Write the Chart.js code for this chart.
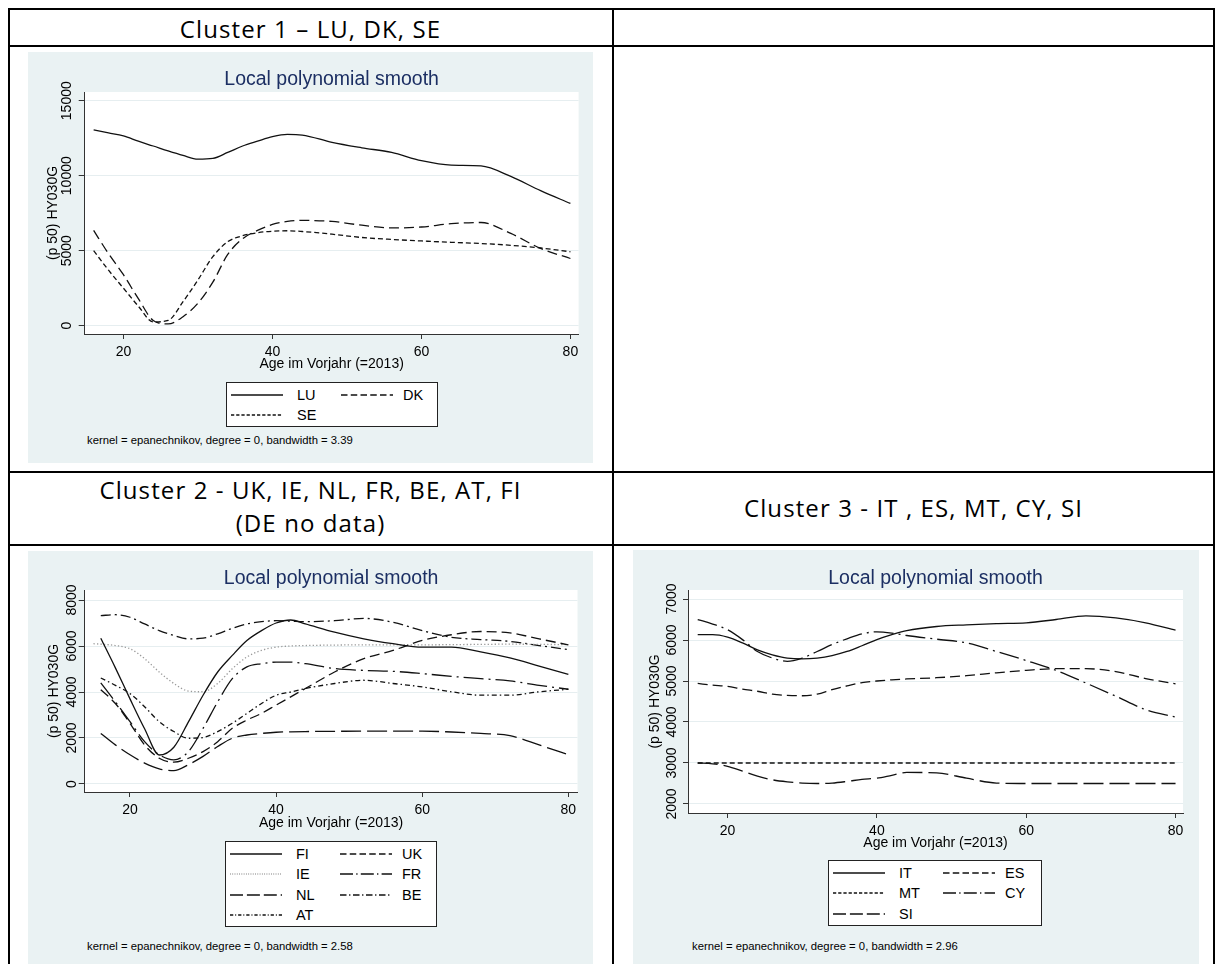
<!DOCTYPE html>
<html>
<head>
<meta charset="utf-8">
<script src="https://cdn.jsdelivr.net/npm/chart.js@4.4.1/dist/chart.umd.min.js"></script>
<style>
  html, body { margin: 0; padding: 0; background: #fff; }
  body { width: 1218px; height: 964px; position: relative; overflow: hidden; font-family: 'Liberation Sans', Arial, sans-serif; }
  .rule { position: absolute; background: #000; }
  .head { position: absolute; font-family: 'Open Sans', sans-serif; font-size: 24px; line-height: 24px; letter-spacing: 1.1px; text-align: center; white-space: nowrap; color: #000; }
  .panel { position: absolute; background: #eaf2f3; }
  .ptitle { position: absolute; font-size: 19.5px; color: #1c2f63; transform: translate(-50%, -50%); white-space: nowrap; }
  canvas { position: absolute; }
  .legend { position: absolute; background: #fff; border: 1px solid #222; box-sizing: border-box; }
  .legend span { position: absolute; font-size: 14.5px; line-height: 20px; white-space: nowrap; }
  .legend svg { position: absolute; }
  .note { position: absolute; font-size: 11.3px; transform: translateY(-50%); white-space: nowrap; }
</style>
</head>
<body>

<!-- table rules -->
<div class="rule" style="left:8px;top:8px;width:1207px;height:2px"></div>
<div class="rule" style="left:8px;top:45px;width:1207px;height:2px"></div>
<div class="rule" style="left:8px;top:471px;width:1207px;height:2px"></div>
<div class="rule" style="left:8px;top:544px;width:1207px;height:2px"></div>
<div class="rule" style="left:8px;top:8px;width:2px;height:956px"></div>
<div class="rule" style="left:612px;top:8px;width:2px;height:956px"></div>
<div class="rule" style="left:1213px;top:8px;width:2px;height:956px"></div>

<div class="head" style="left:9px;width:603px;top:16.7px">Cluster 1 – LU, DK, SE</div>
<div class="head" style="left:9px;width:603px;top:477.7px">Cluster 2 - UK, IE, NL, FR, BE, AT, FI</div>
<div class="head" style="left:9px;width:603px;top:510.7px">(DE no data)</div>
<div class="head" style="left:614px;width:599px;top:495.7px">Cluster 3 - IT , ES, MT, CY, SI</div>

<div class="panel" style="left:28px;top:52px;width:565px;height:411px"></div>
<div class="panel" style="left:28px;top:551px;width:565px;height:413px"></div>
<div class="panel" style="left:633px;top:550px;width:566px;height:414px"></div>

<canvas id="c1"></canvas>
<canvas id="c2"></canvas>
<canvas id="c3"></canvas>

<script>
// ages (x) shared by the smoothed curves
const ages = [16, 18, 20, 22, 24, 26, 28, 30, 32, 34, 36, 38, 40, 42, 44, 48, 52, 56, 60, 64, 68, 72, 76, 80];
const ieAges = [15, 16, 18, 20, 22, 24, 26, 28, 30, 32, 34, 36, 38, 40, 42, 44, 48, 52, 56, 60, 64, 68, 72, 76, 80];
const xTicks = [20, 40, 60, 80];

// Cluster 1
const lu = [13050, 12850, 12650, 12300, 11980, 11650, 11350, 11100, 11150, 11550, 11980, 12300, 12600, 12750, 12710, 12220, 11860, 11550, 11000, 10700, 10650, 9950, 9000, 8150];
const dk = [6350, 4800, 3400, 1800, 350, 120, 600, 1500, 2900, 4750, 5800, 6350, 6750, 6950, 7020, 6950, 6700, 6520, 6580, 6800, 6880, 6150, 5150, 4480];
const se = [5000, 3700, 2500, 1300, 250, 350, 1600, 3050, 4600, 5600, 6000, 6200, 6300, 6330, 6280, 6100, 5880, 5750, 5650, 5560, 5480, 5360, 5180, 4930];
const yTicks1 = [0, 5000, 10000, 15000];

// Cluster 2
const fi = [6340, 5050, 3700, 2400, 1260, 1600, 2700, 3860, 4870, 5590, 6240, 6670, 7000, 7130, 6960, 6600, 6310, 6100, 5950, 5950, 5740, 5480, 5130, 4770];
const uk = [4100, 3500, 2640, 1700, 1120, 950, 1120, 1410, 1840, 2420, 2780, 3070, 3430, 3790, 4150, 4870, 5450, 5810, 6240, 6490, 6630, 6570, 6310, 6050];
const ie = [6100, 6080, 6020, 5880, 5450, 4870, 4370, 4040, 4010, 4370, 5010, 5520, 5810, 5950, 6000, 6020, 6040, 6050, 6050, 6050, 6060, 6070, 6080, 6070, 6060];
const fr = [4400, 3570, 2710, 1840, 1270, 1050, 1410, 2420, 3570, 4580, 5090, 5230, 5300, 5300, 5230, 5020, 4940, 4900, 4800, 4680, 4580, 4480, 4290, 4120];
const nl = [2200, 1700, 1270, 910, 660, 580, 840, 1200, 1630, 1990, 2130, 2200, 2250, 2270, 2280, 2290, 2300, 2300, 2300, 2260, 2200, 2100, 1700, 1270];
const be = [7320, 7360, 7250, 6960, 6670, 6460, 6310, 6340, 6530, 6770, 6960, 7060, 7100, 7080, 7060, 7100, 7200, 7030, 6670, 6380, 6280, 6200, 6020, 5840];
const at = [4610, 4290, 3930, 3360, 2710, 2280, 1990, 2020, 2280, 2640, 3070, 3500, 3860, 4000, 4150, 4370, 4510, 4370, 4220, 4010, 3860, 3860, 4010, 4120];
const yTicks2 = [0, 2000, 4000, 6000, 8000];

// Cluster 3
const it = [6130, 6130, 6070, 5930, 5760, 5640, 5560, 5540, 5560, 5620, 5720, 5860, 6010, 6130, 6230, 6330, 6370, 6400, 6420, 6500, 6590, 6540, 6420, 6240];
const es = [4940, 4900, 4870, 4800, 4750, 4680, 4650, 4640, 4680, 4790, 4880, 4960, 5000, 5030, 5050, 5080, 5130, 5200, 5260, 5300, 5300, 5230, 5060, 4930];
const mt = [3000, 3000, 3000, 3000, 3000, 3000, 3000, 3000, 3000, 3000, 3000, 3000, 3000, 3000, 3000, 3000, 3000, 3000, 3000, 3000, 3000, 3000, 3000, 3000];
const cy = [6500, 6390, 6250, 6010, 5720, 5560, 5480, 5560, 5720, 5890, 6030, 6150, 6200, 6170, 6110, 6020, 5930, 5720, 5500, 5260, 4950, 4630, 4300, 4120];
const si = [3000, 2980, 2920, 2800, 2680, 2590, 2540, 2510, 2500, 2510, 2550, 2600, 2630, 2700, 2770, 2760, 2630, 2510, 2500, 2500, 2500, 2500, 2500, 2500];
const yTicks3 = [2000, 3000, 4000, 5000, 6000, 7000];

// Stata-like line patterns
const SOLID = [], DASH = [10, 5], SHORTDASH = [5, 3], DOT = [1.3, 2.2], LONGDASH = [20, 6],
      LONGDASH_DOT = [20, 5, 2, 5], DASH_DOT = [10, 4, 2, 4], SHORTDASH_DOT = [5, 3, 1.5, 3];

Chart.defaults.font.family = "'Liberation Sans', Arial, sans-serif";
Chart.defaults.color = '#000';

// white plot region on the bluish graph region
const whitePlot = {
    id: 'whitePlot',
    beforeDraw(chart) {
        const { ctx, chartArea: a } = chart;
        ctx.save();
        ctx.fillStyle = '#fff';
        ctx.fillRect(a.left, a.top, a.right - a.left, a.bottom - a.top);
        ctx.restore();
    }
};

const series = (label, x, y, dash, color) => ({ label, x, y, dash, color: color || '#111' });

const makeChart = (id, spec) => {
    const cv = document.getElementById(id);
    cv.width = spec.box.w;
    cv.height = spec.box.h;
    cv.style.left = spec.box.left + 'px';
    cv.style.top = spec.box.top + 'px';

    const fixTicks = vals => scale => { scale.ticks = vals.map(v => ({ value: v })); };

    const chart = new Chart(cv, {
        type: 'line',
        data: {
            datasets: spec.series.map(s => ({
                label: s.label,
                data: s.x.map((a, i) => ({ x: a, y: s.y[i] })),
                borderColor: s.color,
                borderWidth: 1.3,
                borderDash: s.dash,
                pointRadius: 0,
                fill: false,
                cubicInterpolationMode: 'monotone'
            }))
        },
        options: {
            responsive: false,
            animation: false,
            devicePixelRatio: 1,
            layout: { padding: spec.pad },
            plugins: { legend: { display: false }, tooltip: { enabled: false } },
            scales: {
                x: {
                    type: 'linear',
                    min: spec.xMin, max: spec.xMax,
                    afterBuildTicks: fixTicks(xTicks),
                    afterFit: s => { s.height = spec.xH; },
                    grid: { drawOnChartArea: false, tickLength: 5, tickColor: '#333' },
                    border: { color: '#333', width: 1 },
                    ticks: { padding: 4.6, font: { size: 14 }, maxRotation: 0, autoSkip: false, callback: v => String(v) },
                    title: { display: true, text: 'Age im Vorjahr (=2013)', font: { size: 14 }, padding: { top: 0, bottom: 4.3 } }
                },
                y: {
                    type: 'linear',
                    min: spec.yMin, max: spec.yMax,
                    afterBuildTicks: fixTicks(spec.yTicks),
                    afterFit: s => { s.width = spec.yW; },
                    grid: { color: '#e6eef0', tickLength: spec.yTickLen, tickColor: '#333' },
                    border: { color: '#333', width: 1 },
                    ticks: { minRotation: 90, maxRotation: 90, crossAlign: 'center', padding: spec.yTickPad, font: { size: 14 }, autoSkip: false, callback: v => String(v) },
                    title: { display: true, text: '(p 50) HY030G', font: { size: 14 }, padding: { top: spec.yTitlePad, bottom: 0 } }
                }
            }
        },
        plugins: [whitePlot]
    });

    // panel title, centred over the plot region
    const a = chart.chartArea;
    const t = document.createElement('div');
    t.className = 'ptitle';
    t.textContent = 'Local polynomial smooth';
    t.style.left = (spec.box.left + (a.left + a.right) / 2) + 'px';
    t.style.top = spec.titleY + 'px';
    document.body.appendChild(t);

    // boxed two-column legend built from the datasets
    const rows = Math.ceil(chart.data.datasets.length / 2);
    const lg = document.createElement('div');
    lg.className = 'legend';
    lg.style.left = spec.legend.left + 'px';
    lg.style.top = spec.legend.top + 'px';
    lg.style.width = spec.legend.w + 'px';
    lg.style.height = (25 + (rows - 1) * 20.3) + 'px';
    chart.data.datasets.forEach((ds, i) => {
        const col = i % 2, row = Math.floor(i / 2);
        const cy = 12 + row * 20.3;
        const dash = (ds.borderDash || []).map(d => (d * 0.65).toFixed(2)).join(' ');
        lg.insertAdjacentHTML('beforeend',
            `<svg width="52" height="4" style="left:${4 + col * 110}px;top:${cy - 2}px">` +
            `<line x1="0" y1="2" x2="52" y2="2" stroke="${ds.borderColor}" stroke-width="1.3" stroke-dasharray="${dash}"/></svg>` +
            `<span style="left:${70 + col * 106}px;top:${cy - 10}px">${ds.label}</span>`);
    });
    document.body.appendChild(lg);

    const n = document.createElement('div');
    n.className = 'note';
    n.textContent = spec.note;
    n.style.left = spec.noteX + 'px';
    n.style.top = spec.noteY + 'px';
    document.body.appendChild(n);
    return chart;
};

makeChart('c1', {
    box: { left: 28, top: 52, w: 565, h: 325 },
    pad: { top: 40, right: 14.4, left: 0, bottom: 0 },
    yW: 56.7, xH: 43,
    xMin: 14.8, xMax: 81.1, yMin: -553, yMax: 15580, yTicks: yTicks1,
    yTickLen: 6, yTickPad: -7.5, yTitlePad: 16.9,
    series: [
        series('LU', ages, lu, SOLID),
        series('DK', ages, dk, DASH),
        series('SE', ages, se, SHORTDASH)
    ],
    titleY: 78,
    legend: { left: 226, top: 382, w: 212 },
    note: 'kernel = epanechnikov, degree = 0, bandwidth = 3.39', noteX: 87, noteY: 440
});

makeChart('c2', {
    box: { left: 28, top: 551, w: 565, h: 285 },
    pad: { top: 39, right: 15.5, left: 0, bottom: 0 },
    yW: 56.7, xH: 44,
    xMin: 13.8, xMax: 81.25, yMin: -348, yMax: 8435, yTicks: yTicks2,
    yTickLen: 6, yTickPad: -8.6, yTitlePad: 17.6,
    series: [
        series('FI', ages, fi, SOLID),
        series('UK', ages, uk, DASH),
        series('IE', ieAges, ie, DOT, '#9a9a9a'),
        series('FR', ages, fr, LONGDASH_DOT),
        series('NL', ages, nl, LONGDASH),
        series('BE', ages, be, DASH_DOT),
        series('AT', ages, at, SHORTDASH_DOT)
    ],
    titleY: 577,
    legend: { left: 225, top: 841, w: 212 },
    note: 'kernel = epanechnikov, degree = 0, bandwidth = 2.58', noteX: 87, noteY: 946
});

makeChart('c3', {
    box: { left: 633, top: 550, w: 566, h: 306 },
    pad: { top: 40, right: 16, left: 0, bottom: 0 },
    yW: 55, xH: 43,
    xMin: 14.7, xMax: 81.0, yMin: 1780, yMax: 7220, yTicks: yTicks3,
    yTickLen: 5, yTickPad: -4.3, yTitlePad: 13.6,
    series: [
        series('IT', ages, it, SOLID),
        series('ES', ages, es, DASH),
        series('MT', ages, mt, SHORTDASH),
        series('CY', ages, cy, LONGDASH_DOT),
        series('SI', ages, si, LONGDASH)
    ],
    titleY: 577,
    legend: { left: 828, top: 860, w: 214 },
    note: 'kernel = epanechnikov, degree = 0, bandwidth = 2.96', noteX: 692, noteY: 946
});
</script>
</body>
</html>
